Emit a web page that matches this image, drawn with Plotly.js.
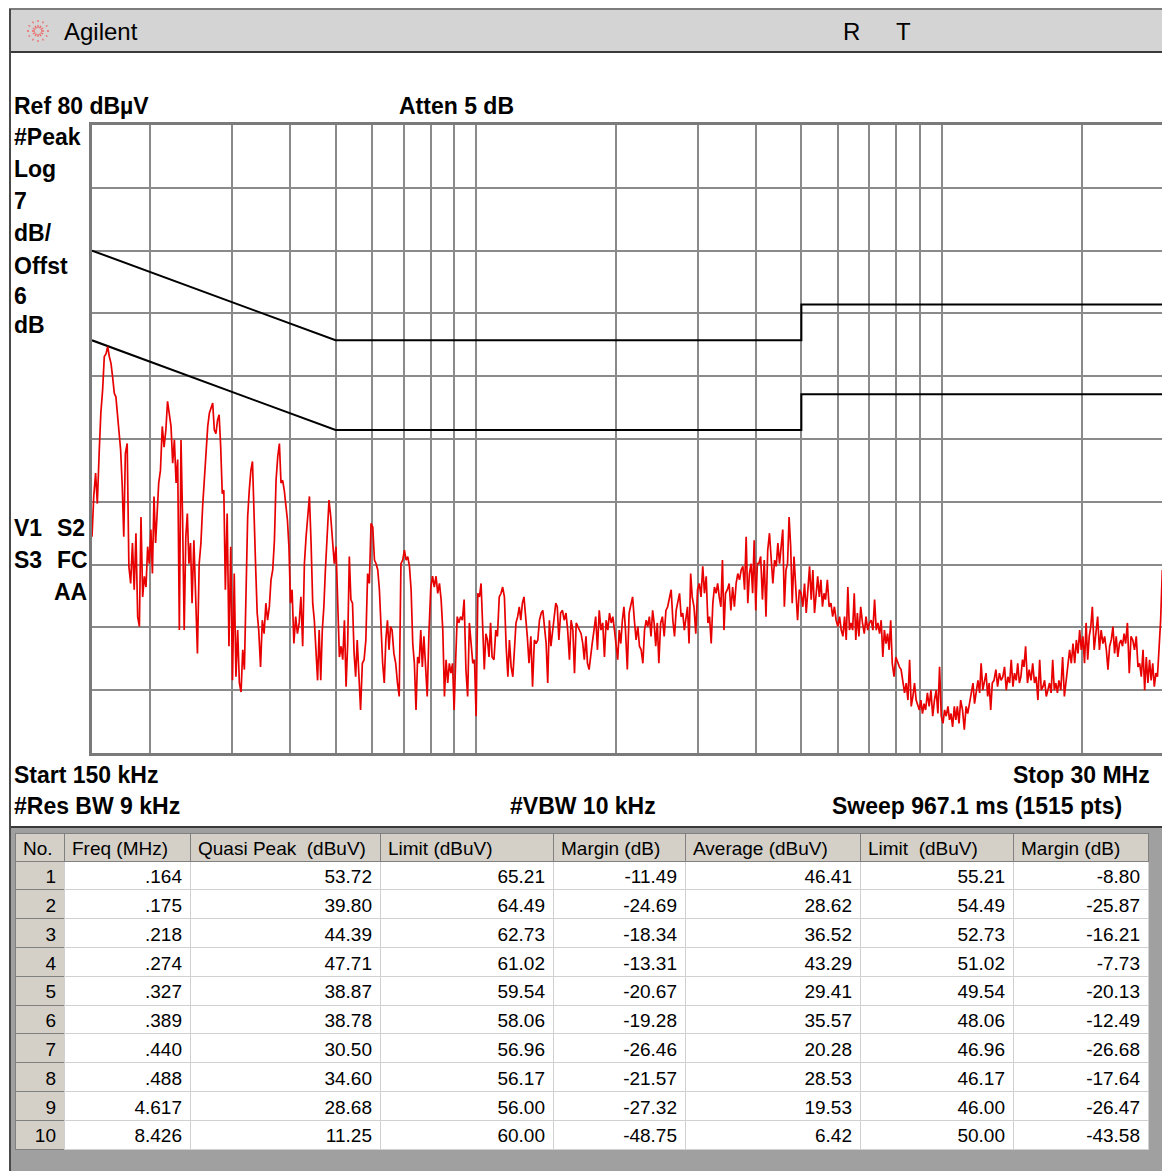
<!DOCTYPE html>
<html>
<head>
<meta charset="utf-8">
<script src="https://cdn.plot.ly/plotly-3.0.1.min.js"></script>
<style>
html,body{margin:0;padding:0;background:#fff;overflow:hidden}
#chart{width:1162px;height:1171px}
</style>
</head>
<body>
<div id="chart"></div>
<script>
const freqMHz = [
0.1500,0.1513,0.1527,0.1540,0.1554,0.1567,0.1581,0.1594,0.1608,0.1621,0.1634,0.1648,0.1661,0.1675,0.1688,0.1702,0.1715,0.1728,0.1742,0.1755,
0.1769,0.1785,0.1800,0.1816,0.1832,0.1848,0.1864,0.1880,0.1896,0.1911,0.1927,0.1943,0.1959,0.1975,0.1991,0.2007,0.2022,0.2038,0.2054,0.2070,
0.2086,0.2104,0.2123,0.2142,0.2161,0.2179,0.2198,0.2217,0.2235,0.2254,0.2273,0.2291,0.2310,0.2329,0.2347,0.2366,0.2385,0.2403,0.2422,0.2441,
0.2460,0.2482,0.2504,0.2526,0.2548,0.2570,0.2592,0.2614,0.2636,0.2658,0.2680,0.2702,0.2724,0.2746,0.2768,0.2790,0.2812,0.2834,0.2856,0.2878,
0.2900,0.2926,0.2952,0.2978,0.3004,0.3030,0.3056,0.3082,0.3108,0.3134,0.3160,0.3186,0.3212,0.3238,0.3264,0.3290,0.3316,0.3342,0.3368,0.3394,
0.3420,0.3451,0.3481,0.3512,0.3543,0.3573,0.3604,0.3634,0.3665,0.3696,0.3726,0.3757,0.3788,0.3818,0.3849,0.3880,0.3910,0.3941,0.3971,0.4002,
0.4033,0.4069,0.4105,0.4141,0.4177,0.4213,0.4250,0.4286,0.4322,0.4358,0.4394,0.4430,0.4466,0.4502,0.4539,0.4575,0.4611,0.4647,0.4683,0.4719,
0.4755,0.4798,0.4841,0.4883,0.4926,0.4968,0.5011,0.5054,0.5096,0.5139,0.5181,0.5224,0.5267,0.5309,0.5352,0.5394,0.5437,0.5480,0.5522,0.5565,
0.5607,0.5658,0.5708,0.5758,0.5808,0.5859,0.5909,0.5959,0.6009,0.6060,0.6110,0.6160,0.6210,0.6261,0.6311,0.6361,0.6411,0.6462,0.6512,0.6562,
0.6612,0.6671,0.6731,0.6790,0.6849,0.6908,0.6968,0.7027,0.7086,0.7145,0.7205,0.7264,0.7323,0.7382,0.7442,0.7501,0.7560,0.7619,0.7679,0.7738,
0.7797,0.7867,0.7937,0.8007,0.8076,0.8146,0.8216,0.8286,0.8356,0.8426,0.8496,0.8565,0.8635,0.8705,0.8775,0.8845,0.8915,0.8985,0.9054,0.9124,
0.9194,0.9277,0.9359,0.9441,0.9524,0.9606,0.9688,0.9771,0.9853,0.9936,1.0018,1.0100,1.0183,1.0265,1.0347,1.0430,1.0512,1.0594,1.0677,1.0759,
1.084,1.094,1.104,1.113,1.123,1.133,1.142,1.152,1.162,1.172,1.181,1.191,1.201,1.210,1.220,1.230,1.240,1.249,1.259,1.269,
1.278,1.290,1.301,1.313,1.324,1.336,1.347,1.359,1.370,1.382,1.393,1.404,1.416,1.427,1.439,1.450,1.462,1.473,1.485,1.496,
1.508,1.521,1.535,1.548,1.562,1.575,1.589,1.602,1.616,1.629,1.643,1.656,1.670,1.683,1.697,1.710,1.724,1.737,1.751,1.764,
1.778,1.794,1.809,1.825,1.841,1.857,1.873,1.889,1.905,1.921,1.937,1.953,1.969,1.985,2.001,2.017,2.032,2.048,2.064,2.080,
2.096,2.115,2.134,2.152,2.171,2.190,2.209,2.228,2.246,2.265,2.284,2.303,2.322,2.340,2.359,2.378,2.397,2.415,2.434,2.453,
2.472,2.494,2.516,2.538,2.560,2.582,2.605,2.627,2.649,2.671,2.693,2.715,2.738,2.760,2.782,2.804,2.826,2.848,2.870,2.893,
2.915,2.941,2.967,2.993,3.019,3.045,3.071,3.097,3.124,3.150,3.176,3.202,3.228,3.254,3.280,3.306,3.332,3.359,3.385,3.411,
3.437,3.468,3.499,3.529,3.560,3.591,3.622,3.652,3.683,3.714,3.745,3.776,3.806,3.837,3.868,3.899,3.930,3.960,3.991,4.022,
4.053,4.089,4.125,4.162,4.198,4.234,4.271,4.307,4.343,4.380,4.416,4.452,4.489,4.525,4.561,4.597,4.634,4.670,4.706,4.743,
4.779,4.822,4.865,4.907,4.950,4.993,5.036,5.079,5.122,5.164,5.207,5.250,5.293,5.336,5.378,5.421,5.464,5.507,5.550,5.593,
5.635,5.686,5.736,5.787,5.837,5.888,5.938,5.989,6.039,6.090,6.140,6.191,6.241,6.292,6.342,6.393,6.443,6.494,6.544,6.595,
6.645,6.705,6.764,6.824,6.883,6.943,7.002,7.062,7.121,7.181,7.240,7.300,7.360,7.419,7.479,7.538,7.598,7.657,7.717,7.776,
7.836,7.906,7.976,8.046,8.117,8.187,8.257,8.327,8.397,8.468,8.538,8.608,8.678,8.748,8.819,8.889,8.959,9.029,9.099,9.170,
9.240,9.323,9.405,9.488,9.571,9.654,9.737,9.819,9.902,9.985,10.07,10.15,10.23,10.32,10.40,10.48,10.56,10.65,10.73,10.81,
10.90,10.99,11.09,11.19,11.29,11.38,11.48,11.58,11.68,11.77,11.87,11.97,12.07,12.16,12.26,12.36,12.46,12.56,12.65,12.75,
12.85,12.96,13.08,13.19,13.31,13.42,13.54,13.65,13.77,13.88,14.00,14.11,14.23,14.34,14.46,14.57,14.69,14.80,14.92,15.03,
15.15,15.29,15.42,15.56,15.69,15.83,15.96,16.10,16.24,16.37,16.51,16.64,16.78,16.91,17.05,17.19,17.32,17.46,17.59,17.73,
17.86,18.03,18.19,18.35,18.51,18.67,18.83,18.99,19.15,19.31,19.47,19.63,19.79,19.95,20.11,20.27,20.43,20.59,20.75,20.91,
21.07,21.26,21.44,21.63,21.82,22.01,22.20,22.39,22.58,22.76,22.95,23.14,23.33,23.52,23.71,23.90,24.09,24.27,24.46,24.65,
24.84,25.06,25.29,25.51,25.73,25.95,26.18,26.40,26.62,26.84,27.07,27.29,27.51,27.73,27.96,28.18,28.40,28.62,28.85,29.07,
29.29,29.53,29.78,30.00
];
const levelDbuV = [
34.1,38.6,41.2,37.8,43.4,47.9,50.5,54.2,54.5,55.3,54.2,53.4,51.9,50.1,49.7,47.5,46.4,43.8,39.7,34.1,
43.4,44.5,30.8,28.9,33.4,28.2,34.5,25.2,24.1,36.3,27.4,29.7,28.5,33.0,31.1,34.9,30.0,38.6,33.4,37.8,
40.1,41.5,46.4,44.1,46.0,49.2,47.5,46.4,42.3,44.9,40.1,42.7,23.7,44.9,36.3,23.7,34.1,36.7,31.1,33.4,
26.7,33.7,27.4,21.1,31.1,33.4,37.5,40.8,44.1,46.4,47.9,48.6,49.0,46.0,45.6,47.1,47.7,44.1,38.9,39.3,
28.2,36.7,21.9,33.0,18.1,30.0,18.5,23.7,17.8,16.8,21.5,19.3,28.5,36.3,39.3,41.5,42.5,34.9,30.8,25.6,
23.7,19.6,24.8,23.3,26.7,24.8,26.3,29.3,30.4,33.7,40.4,43.0,44.5,40.1,40.4,39.3,37.8,36.0,33.0,26.7,
28.2,22.2,25.2,23.3,24.5,27.4,21.9,31.1,34.1,36.3,38.6,33.4,26.7,24.8,20.4,18.1,23.7,18.1,23.7,26.3,
30.4,34.9,38.2,36.3,33.0,31.1,33.0,25.2,20.7,21.9,20.4,24.8,17.4,22.2,31.9,27.1,26.7,21.1,18.5,22.6,
19.3,14.8,20.0,20.4,22.6,30.0,28.9,35.6,35.2,31.5,31.1,30.4,28.2,23.7,20.0,17.8,22.6,24.8,21.5,24.1,
23.7,21.1,20.0,17.8,16.3,31.1,31.5,32.6,31.5,31.9,30.8,28.2,22.2,20.0,14.8,20.7,20.0,23.7,19.6,23.0,
19.6,16.3,23.7,28.5,29.7,28.5,29.7,27.8,28.9,27.1,23.7,16.3,20.4,17.8,20.0,18.9,20.0,14.8,20.4,25.2,
24.5,25.2,24.8,27.1,19.3,16.3,24.5,22.6,20.0,20.4,14.1,27.8,27.4,28.9,24.5,19.3,23.3,22.6,20.7,24.5,
20.7,20.4,23.7,23.0,27.4,27.8,28.5,27.4,21.9,18.5,22.6,19.6,18.5,21.1,24.5,25.2,26.3,24.8,26.7,27.4,
25.6,23.0,20.0,23.0,17.4,22.6,22.2,22.6,24.8,25.6,25.9,23.7,22.2,17.8,24.8,21.9,23.7,24.8,26.7,26.3,
22.6,25.6,25.9,24.8,25.6,23.7,20.4,24.8,23.7,18.9,24.5,24.1,23.7,23.3,22.2,20.4,23.0,20.0,19.3,21.1,
22.2,23.7,25.2,21.5,25.9,23.7,24.5,20.7,24.8,23.7,25.6,24.5,25.2,23.7,21.9,20.4,23.7,22.2,24.8,26.3,
23.7,19.3,25.6,26.7,27.4,24.8,22.6,24.1,21.9,21.5,20.0,23.7,24.8,24.1,25.2,23.0,25.9,24.5,21.9,24.5,
20.0,24.5,25.2,23.0,25.9,26.3,27.4,28.2,24.8,23.0,25.9,27.1,27.8,25.2,25.6,23.7,25.2,26.3,22.2,30.0,
27.4,26.3,23.3,28.2,28.9,27.4,30.8,27.8,29.7,24.5,25.2,22.2,26.7,28.5,27.8,28.9,27.4,26.3,31.5,23.7,
27.8,28.2,28.9,25.9,28.5,26.3,28.9,30.0,29.3,30.4,30.8,28.2,34.1,26.7,30.0,31.1,27.8,33.7,25.9,31.1,
31.1,31.9,27.1,31.5,25.2,32.6,34.5,31.1,28.9,31.5,30.8,33.4,31.1,33.0,34.9,26.3,30.4,31.1,36.3,33.0,
26.7,31.9,27.4,24.8,28.2,27.8,26.3,28.9,25.6,27.8,30.8,27.1,30.4,25.6,28.2,29.7,27.4,29.3,26.3,27.8,
27.1,29.3,26.3,26.7,25.2,26.3,24.8,24.1,25.2,23.7,23.0,25.2,22.6,28.5,23.7,24.5,23.7,27.8,22.6,25.6,
23.0,26.3,24.5,23.3,25.2,23.7,24.5,24.8,23.7,27.1,23.7,24.5,23.3,24.8,20.7,23.7,22.2,23.3,21.5,24.8,
20.0,18.5,20.7,20.0,19.6,19.3,18.1,16.7,17.8,15.9,20.4,15.2,16.3,17.8,15.9,15.2,14.8,15.9,14.4,15.5,
14.8,16.7,15.2,17.0,14.1,15.9,17.0,14.4,19.6,14.1,13.3,14.8,14.1,15.2,13.7,14.4,12.9,15.2,13.7,15.2,
13.3,15.9,14.8,12.6,15.2,14.4,15.5,16.7,17.8,15.5,17.0,18.1,16.7,20.0,17.0,17.8,18.9,16.3,17.8,14.8,
17.8,18.1,19.3,17.4,18.9,18.1,18.5,19.6,17.0,18.5,17.8,20.4,17.4,18.9,18.1,20.0,17.8,18.5,20.4,19.6,
21.9,17.8,19.3,18.1,20.0,17.8,18.5,15.9,20.4,17.0,17.4,18.1,16.3,17.0,17.8,16.7,20.4,17.0,17.8,16.7,
18.1,17.0,20.7,16.3,18.1,19.3,21.5,20.0,22.2,20.0,22.6,21.1,23.7,21.5,23.0,20.0,24.5,20.4,23.0,24.1,
26.3,21.5,23.7,25.2,21.5,23.7,22.2,23.0,21.5,19.3,21.9,22.6,24.1,21.1,23.0,20.7,22.2,22.6,21.9,23.3,
22.2,24.5,18.9,23.0,22.6,21.5,23.0,19.6,20.0,18.5,21.5,17.0,20.7,17.8,20.4,18.1,20.0,17.4,18.9,18.5,
21.5,24.8,30.4,24.0
];

// ---- limit lines ----
const qpLimitFreq = [0.15, 0.5, 5, 5, 30];
const qpLimitLevel = [66, 56, 56, 60, 60];
const avgLimitFreq = [0.15, 0.5, 5, 5, 30];
const avgLimitLevel = [56, 46, 46, 50, 50];

// ---- graticule ----
const gridFreqs = [0.2,0.3,0.4,0.5,0.6,0.7,0.8,0.9,1,2,3,4,5,6,7,8,9,10,20];
const gridLevels = [17,24,31,38,45,52,59,66,73];
const startMHz = 0.15, stopMHz = 30, refLevel = 80, dbPerDiv = 7;

// ---- marker table ----
const tableHeaders = ['No.','Freq (MHz)','Quasi Peak\u00a0\u00a0(dBuV)','Limit (dBuV)','Margin (dB)','Average (dBuV)','Limit\u00a0\u00a0(dBuV)','Margin (dB)'];
const markerNo = [1,2,3,4,5,6,7,8,9,10];
const markerFreq = [0.164,0.175,0.218,0.274,0.327,0.389,0.440,0.488,4.617,8.426];
const quasiPeak = [53.72,39.80,44.39,47.71,38.87,38.78,30.50,34.60,28.68,11.25];
const qpLimit = [65.21,64.49,62.73,61.02,59.54,58.06,56.96,56.17,56.00,60.00];
const qpMargin = [-11.49,-24.69,-18.34,-13.31,-20.67,-19.28,-26.46,-21.57,-27.32,-48.75];
const average = [46.41,28.62,36.52,43.29,29.41,35.57,20.28,28.53,19.53,6.42];
const avgLimit = [55.21,54.49,52.73,51.02,49.54,48.06,46.96,46.17,46.00,50.00];
const avgMargin = [-8.80,-25.87,-16.21,-7.73,-20.13,-12.49,-26.68,-17.64,-26.47,-43.58];

// ---------------------------------------------------------------
const W = 1162, H = 1171;
const px = x => x / W;
const py = y => 1 - y / H;
const FONT = 'Liberation Sans, Arial, Helvetica, sans-serif';

const plotLeft = 92, plotTop = 125, plotBottom = 753;
// the right border of the graticule lies just outside the window
const decadePx = 465.8;
const xEnd = Math.log10(startMHz) + (W - plotLeft) / decadePx;

const traces = [
  {type:'scatter', mode:'lines', x:qpLimitFreq, y:qpLimitLevel, line:{color:'#000', width:2}, hoverinfo:'skip'},
  {type:'scatter', mode:'lines', x:avgLimitFreq, y:avgLimitLevel, line:{color:'#000', width:2}, hoverinfo:'skip'},
  {type:'scatter', mode:'lines', x:freqMHz, y:levelDbuV, line:{color:'rgb(232,0,0)', width:1.7}, hoverinfo:'skip'},
  {
    type:'table',
    domain:{x:[px(15), px(1148)], y:[py(1151), py(833)]},
    columnwidth:[49,126,190,173,132,175,153,135],
    header:{
      values: tableHeaders,
      align:'left',
      height:28,
      fill:{color:'#d4d0c8'},
      line:{color:'#808080', width:1},
      font:{family:FONT, size:19, color:'#000'}
    },
    cells:{
      values:[markerNo, markerFreq.map(f => f.toFixed(3).replace(/^0/, '')), quasiPeak, qpLimit, qpMargin, average, avgLimit, avgMargin],
      format:['', '', '.2f', '.2f', '.2f', '.2f', '.2f', '.2f'],
      align:'right',
      height:28.8,
      fill:{color:['#d4d0c8','#ffffff','#ffffff','#ffffff','#ffffff','#ffffff','#ffffff','#ffffff']},
      line:{color:['#808080','#d0d0d0','#d0d0d0','#d0d0d0','#d0d0d0','#d0d0d0','#d0d0d0','#d0d0d0'], width:1},
      font:{family:FONT, size:19, color:'#000'}
    }
  }
];

function lbl(text, x, y, o) {
  o = o || {};
  return {
    xref:'paper', yref:'paper', x:px(x), y:py(y),
    xanchor:o.anchor || 'left', yanchor:'middle', showarrow:false, borderpad:0,
    text:text,
    font:{family:FONT, size:o.size || 23, color:o.color || '#000', weight:o.weight || 700}
  };
}

const annotations = [
  lbl('Agilent', 63, 32, {size:24, weight:400}),
  lbl('R', 842, 32, {size:24, weight:400}),
  lbl('T', 895, 32, {size:24, weight:400}),
  lbl('Ref ' + refLevel + ' dBµV', 13, 106),
  lbl('Atten 5 dB', 398, 106),
  lbl('#Peak', 13, 137),
  lbl('Log', 13, 169),
  lbl(String(dbPerDiv), 13, 201),
  lbl('dB/', 13, 233),
  lbl('Offst', 13, 266),
  lbl('6', 13, 296),
  lbl('dB', 13, 325),
  lbl('V1', 13, 528), lbl('S2', 56, 528),
  lbl('S3', 13, 560), lbl('FC', 56, 560),
  lbl('AA', 53, 592),
  lbl('Start 150 kHz', 13, 775),
  lbl('Stop 30 MHz', 1151, 775, {anchor:'right'}),
  lbl('#Res BW 9 kHz', 13, 806),
  lbl('#VBW 10 kHz', 509, 806),
  lbl('Sweep 967.1 ms (1515 pts)', 1123, 806, {anchor:'right'})
];

const shapes = [];
function rect(x0, y0, x1, y1, fill, layer) {
  shapes.push({type:'rect', xref:'paper', yref:'paper', x0:px(x0), x1:px(x1), y0:py(y1), y1:py(y0),
    fillcolor:fill, line:{width:0}, layer:layer || 'below'});
}
function hline(x0, x1, y, color, w) {
  shapes.push({type:'line', xref:'paper', yref:'paper', x0:px(x0), x1:px(x1), y0:py(y), y1:py(y),
    line:{color:color, width:w}, layer:'above'});
}
function vline(x, y0, y1, color, w) {
  shapes.push({type:'line', xref:'paper', yref:'paper', x0:px(x), x1:px(x), y0:py(y0), y1:py(y1),
    line:{color:color, width:w}, layer:'above'});
}
// title bar
rect(10, 9, W, 52, '#d4d4d4');
hline(9, W, 9, '#7c7c7c', 2);
hline(10, W, 52, '#3a3a3a', 2);
// lower panel holding the table
rect(11, 827, W, H, '#a0a0a0');
hline(10, W, 827, '#3a3a3a', 2);
// left frame
vline(10, 9, H, '#4a4a4a', 2);
// Agilent spark logo (dotted rays)
for (let i = 0; i < 12; i++) {
  const a = i * Math.PI / 6;
  const cx = 38, cy = 31;
  shapes.push({type:'line', xref:'paper', yref:'paper',
    x0:px(cx + 3 * Math.cos(a)), y0:py(cy + 3 * Math.sin(a)),
    x1:px(cx + 11 * Math.cos(a)), y1:py(cy + 11 * Math.sin(a)),
    line:{color:'#ec6a6a', width:1.3, dash:'dot'}, layer:'above'});
}

const layout = {
  width:W, height:H,
  margin:{l:0, r:0, t:0, b:0, pad:0},
  paper_bgcolor:'#ffffff', plot_bgcolor:'#ffffff',
  showlegend:false,
  hovermode:false,
  xaxis:{
    type:'log', domain:[px(plotLeft), 1],
    range:[Math.log10(startMHz), xEnd],
    tickvals:gridFreqs, showticklabels:false, ticks:'',
    showgrid:true, gridcolor:'#8a8a8a', gridwidth:2, zeroline:false,
    showline:true, linecolor:'#7a7a7a', linewidth:3, mirror:true
  },
  yaxis:{
    domain:[py(plotBottom), py(plotTop)],
    range:[refLevel - 10 * dbPerDiv, refLevel],
    tickvals:gridLevels, showticklabels:false, ticks:'',
    showgrid:true, gridcolor:'#8a8a8a', gridwidth:2, zeroline:false,
    showline:true, linecolor:'#7a7a7a', linewidth:3, mirror:false
  },
  annotations:annotations,
  shapes:shapes
};

Plotly.newPlot('chart', traces, layout, {staticPlot:true, displayModeBar:false});
</script>
</body>
</html>
